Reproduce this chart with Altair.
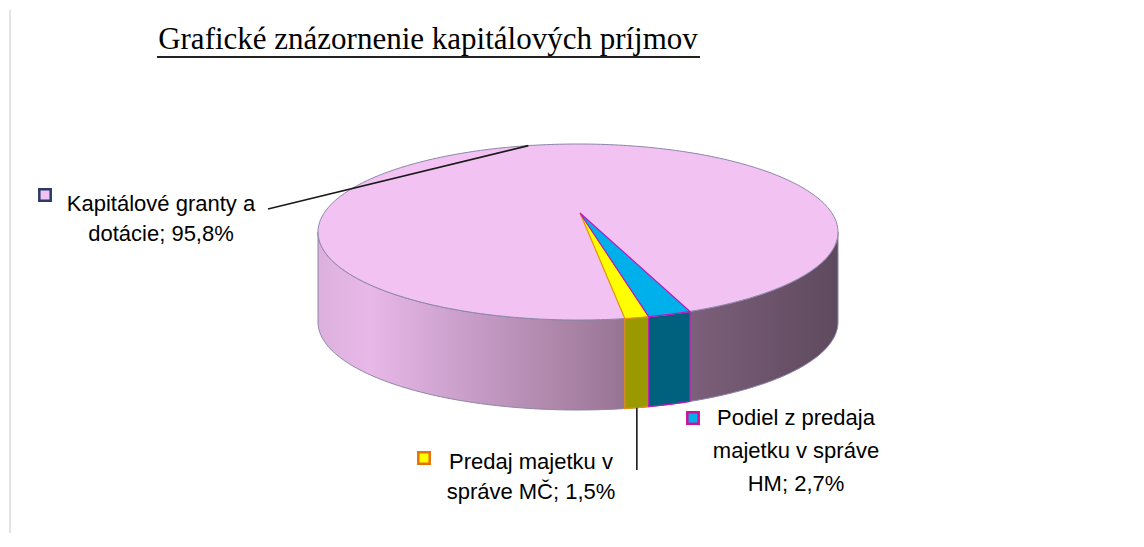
import math
import altair as alt
import pandas as pd

# ---------------- data ----------------
categories = [
    "Kapitálové granty a dotácie",
    "Predaj majetku v správe MČ",
    "Podiel z predaja majetku v správe HM",
]
shares = [95.8, 1.5, 2.7]
# wrapped label text (value is appended to the last line)
label_lines = [
    ["Kapitálové granty a", "dotácie;"],
    ["Predaj majetku v", "správe MČ;"],
    ["Podiel z predaja", "majetku v správe", "HM;"],
]
title_text = "Grafické znázornenie kapitálových príjmov"

# ---------------- styles ----------------
top_fill = ["#f2c2f2", "#ffff00", "#00b0ea"]
side_fill = [None, "#9a9a00", "#00617f"]
edge_col = ["#8c86a8", "#e8900a", "#c018c0"]
key_stroke = ["#2b3a67", "#e8700a", "#d0109c"]

# ---------------- layout (page pixels) ----------------
W, H = 1120, 525
CX, CY, A, B, DEPTH = 578, 232, 260, 88, 90
APEX = (580, 213)
START = 64.5           # y-down parametric angle where the clockwise run starts
clockwise = [2, 1, 0]  # blue, yellow, pink
label_pos = {0: (161, 204), 1: (531, 462), 2: (796, 418)}
line_h = {0: 30, 1: 30, 2: 33}
key_pos = {0: (45, 195), 1: (424, 458), 2: (693, 418)}
pink_label_end = (268, 209)
pink_leader_angle = 259
yellow_leader_end_y = 470

total = sum(shares)
ranges = {}
t = START
for k in clockwise:
    span = shares[k] / total * 360.0
    ranges[k] = (t, t + span)
    t += span


def rim(td, dy=0.0):
    r = math.radians(td)
    return (CX + A * math.cos(r), CY + B * math.sin(r) + dy)


def arc(t0, t1, dy=0.0):
    n = max(4, int(abs(t1 - t0) / 1.0) + 1)
    return [rim(t0 + (t1 - t0) * i / (n - 1), dy) for i in range(n)]


def poly_df(pts, name):
    return pd.DataFrame({
        "poly": name,
        "i": list(range(len(pts))),
        "x": [p[0] for p in pts],
        "y": [p[1] for p in pts],
    })


X = alt.X("x:Q", scale=alt.Scale(domain=[8, 8 + W], nice=False, zero=False), axis=None)
Y = alt.Y("y:Q", scale=alt.Scale(domain=[8, 8 + H], nice=False, zero=False, reverse=True), axis=None)


def polygon(df, fill, stroke, sw=1.0):
    return alt.Chart(df).mark_line(
        fill=fill, stroke=stroke, strokeWidth=sw, strokeJoin="round"
    ).encode(x=X, y=Y, order="i:Q", detail="poly:N")


layers = []

# pink outer wall (front half) with shading gradient (light left -> dark right)
wall_pts = arc(0, 180) + arc(180, 0, DEPTH)
wall_pts.append(wall_pts[0])
pink_grad = alt.Gradient(
    gradient="linear",
    stops=[
        alt.GradientStop(color="#dcb0dc", offset=0.0),
        alt.GradientStop(color="#e8b8e8", offset=0.1),
        alt.GradientStop(color="#c69cc6", offset=0.3),
        alt.GradientStop(color="#a47ea0", offset=0.52),
        alt.GradientStop(color="#7c5f7a", offset=0.72),
        alt.GradientStop(color="#5e4a5e", offset=1.0),
    ],
    x1=0, x2=1, y1=0, y2=0,
)
layers.append(polygon(poly_df(wall_pts, "wall0"), pink_grad, edge_col[0], 1))

# small slices walls
for k in (1, 2):
    t0, t1 = ranges[k]
    pts = arc(t0, t1) + arc(t1, t0, DEPTH)
    pts.append(pts[0])
    layers.append(polygon(poly_df(pts, f"wall{k}"), side_fill[k], edge_col[k], 1.2))

# pink top (full ellipse)
top_pts = arc(0, 360)
layers.append(polygon(poly_df(top_pts, "top0"), top_fill[0], edge_col[0], 1))

# small slice wedges on top
for k in (1, 2):
    t0, t1 = ranges[k]
    pts = [APEX] + arc(t0, t1) + [APEX]
    layers.append(polygon(poly_df(pts, f"top{k}"), top_fill[k], edge_col[k], 1.2))

# leader lines
p_end = rim(pink_leader_angle)
lead0 = poly_df([pink_label_end, p_end], "lead0")
ty = sum(ranges[1]) / 2
y_start = rim(ty, DEPTH)
lead1 = poly_df([y_start, (y_start[0], yellow_leader_end_y)], "lead1")
leaders = pd.concat([lead0, lead1])
layers.append(
    alt.Chart(leaders).mark_line(color="#1a1a1a", strokeWidth=1.6)
    .encode(x=X, y=Y, order="i:Q", detail="poly:N")
)

# legend keys
for k in range(3):
    kd = pd.DataFrame({"x": [key_pos[k][0]], "y": [key_pos[k][1]]})
    layers.append(
        alt.Chart(kd).mark_square(size=130, fill=top_fill[k], stroke=key_stroke[k],
                                  strokeWidth=2.5, opacity=1, fillOpacity=1)
        .encode(x=X, y=Y)
    )

# labels
rows = []
for k in range(3):
    pct = f"{shares[k]:.1f}".replace(".", ",")
    lines = list(label_lines[k])
    lines[-1] = lines[-1] + " " + pct + "%"
    lx, ly = label_pos[k]
    for j, s in enumerate(lines):
        rows.append({"x": lx, "y": ly + j * line_h[k], "text": s})
lab = pd.DataFrame(rows)
layers.append(
    alt.Chart(lab).mark_text(font="Liberation Sans", fontSize=22, align="center",
                             baseline="middle", color="#000000")
    .encode(x=X, y=Y, text="text:N")
)

# title + underline
td = pd.DataFrame({"x": [428], "y": [49], "text": [title_text]})
layers.append(
    alt.Chart(td).mark_text(font="Liberation Serif", fontSize=31, align="center",
                            baseline="alphabetic", color="#000000")
    .encode(x=X, y=Y, text="text:N")
)
ud = pd.DataFrame({"x": [157], "x2": [700], "y": [57]})
layers.append(
    alt.Chart(ud).mark_rule(color="#222222", strokeWidth=2)
    .encode(x=X, x2="x2:Q", y=Y)
)

# faint frame line on the left
fd = pd.DataFrame({"x": [10], "y": [10], "y2": [8 + H]})
layers.append(
    alt.Chart(fd).mark_rule(color="#e4e4e4", strokeWidth=2)
    .encode(x=X, y=Y, y2="y2:Q")
)

chart = alt.layer(*layers).properties(
    width=W, height=H, padding=0, background="white"
).configure_view(stroke=None)

chart.save("out.html", embed_options={"renderer": "svg", "actions": False})
